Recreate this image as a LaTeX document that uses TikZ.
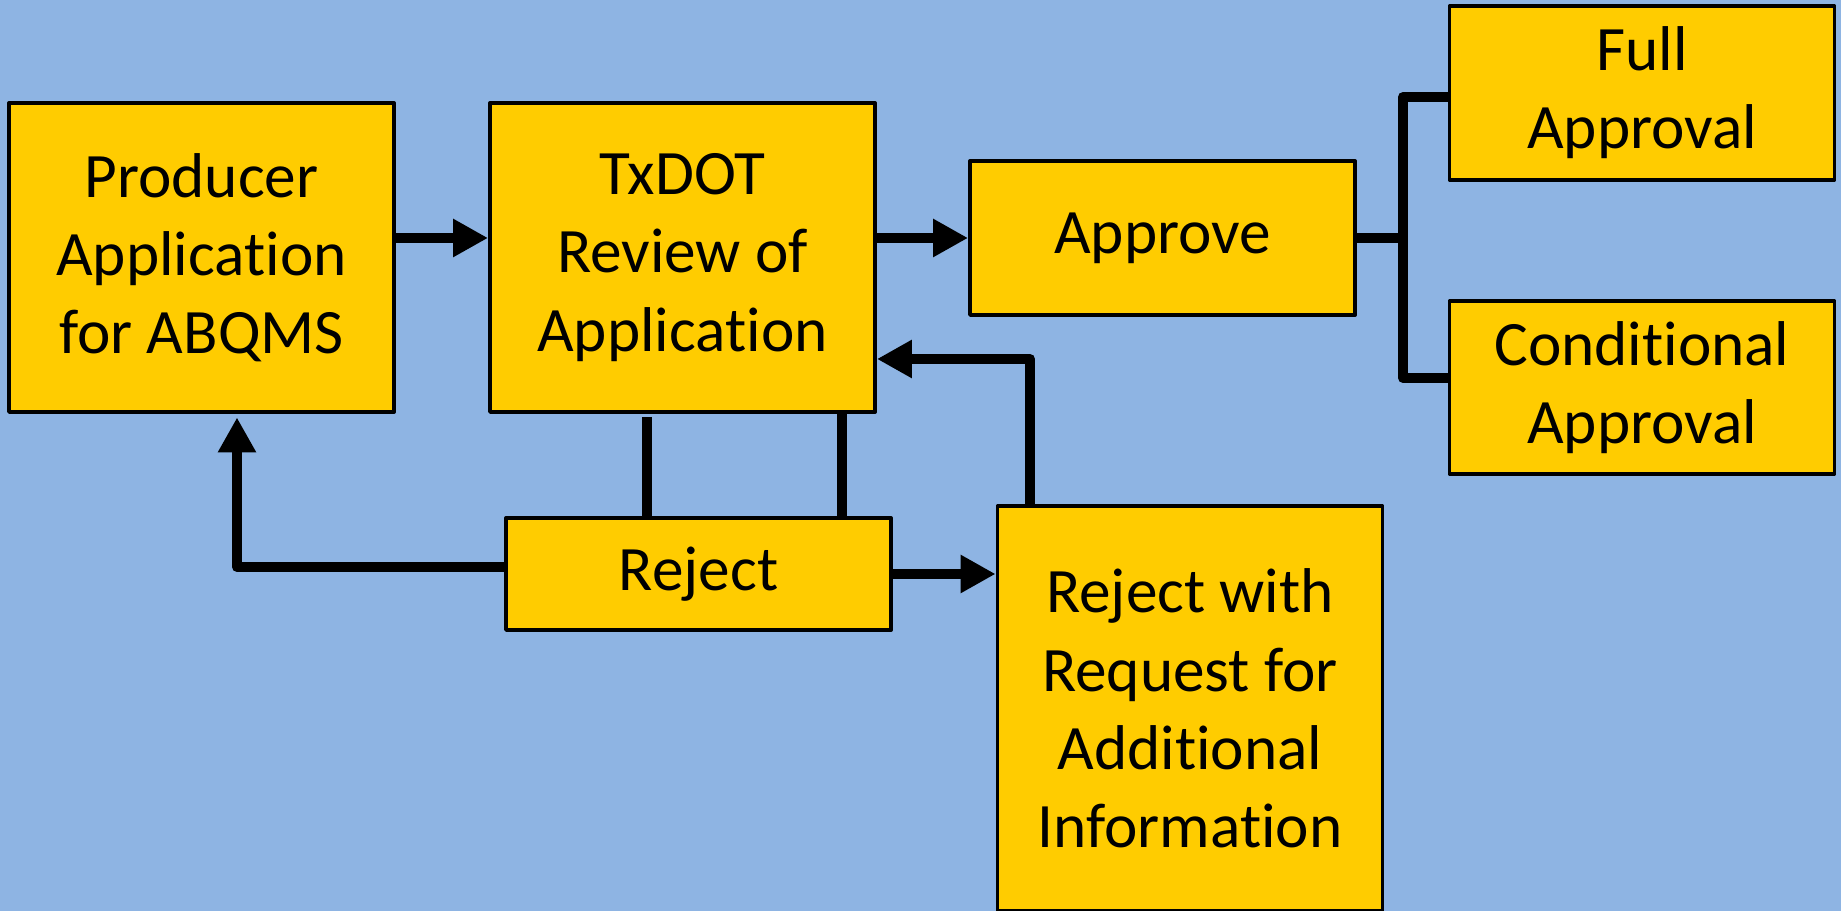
\documentclass[tikz,border=0pt]{standalone}
\usepackage{fontspec}
\setmainfont{Carlito}[RawFeature={-liga;-calt;-clig;-dlig}]
\usetikzlibrary{arrows.meta}
\definecolor{skyback}{RGB}{142,180,227}
\definecolor{boxgold}{RGB}{255,204,0}

\begin{document}
\begin{tikzpicture}[
  stage/.style={rectangle, draw=black, fill=boxgold, line width=2.2pt,
    line join=round, minimum width=7.7cm, align=center, inner sep=0pt,
    font=\fontsize{36}{44.5}\selectfont},
  link/.style={line width=5.7pt, line join=round, black},
  arr/.style={link, -{Triangle[length=0.7cm, width=0.72cm]}}
]
\useasboundingbox (0,0) rectangle (36.82,18.22);
\fill[skyback] (0,0) rectangle (36.82,18.22);

% main boxes
\node[stage, minimum height=6.18cm] (prod)   at (4.03,13.07)  {Producer\\Application\\for ABQMS};
\node[stage, minimum height=6.18cm] (txdot)  at (13.65,13.07) {TxDOT\\Review of\\Application};
\node[stage, minimum height=3.08cm] (appr)   at (23.25,13.46) {Approve};
\node[stage, minimum height=3.48cm] (full)   at (32.84,16.36) {Full\\Approval};
\node[stage, minimum height=3.46cm] (cond)   at (32.84,10.47) {Conditional\\Approval};
\node[stage, minimum height=2.24cm] (reject) at (13.97,6.74)  {Reject};
\node[stage, minimum height=8.10cm] (rwr)    at (23.80,4.05)  {Reject with\\Request for\\Additional\\Information};

% helper points for the bends
\coordinate (split) at (28.06,13.46);
\coordinate (back)  at (20.60,11.04);
\coordinate (ret)   at (4.74,6.88);
\coordinate (l1)    at (12.94,9.88);
\coordinate (r1)    at (16.84,0);

% forward flow
\draw[arr] (prod.east |- appr) -- (txdot.west |- appr);
\draw[arr] (txdot.east |- appr) -- (appr.west);
\draw[link] (appr.east) -- (split);
\draw[link] (full.west |- 0,16.28) -| (split) |- (cond.west |- 0,10.66);

% rejection paths
\draw[link] (l1) -- (l1 |- reject.north);
\draw[link] (txdot.south -| r1) -- (reject.north -| r1);
\draw[arr] (reject.west |- ret) -- (ret) -- ([yshift=-2pt]ret |- prod.south);
\draw[arr] (reject.east) -- (reject.east -| rwr.west);
\draw[arr] (rwr.north -| back) -- (back) -- (txdot.east |- back);
\end{tikzpicture}
\end{document}
